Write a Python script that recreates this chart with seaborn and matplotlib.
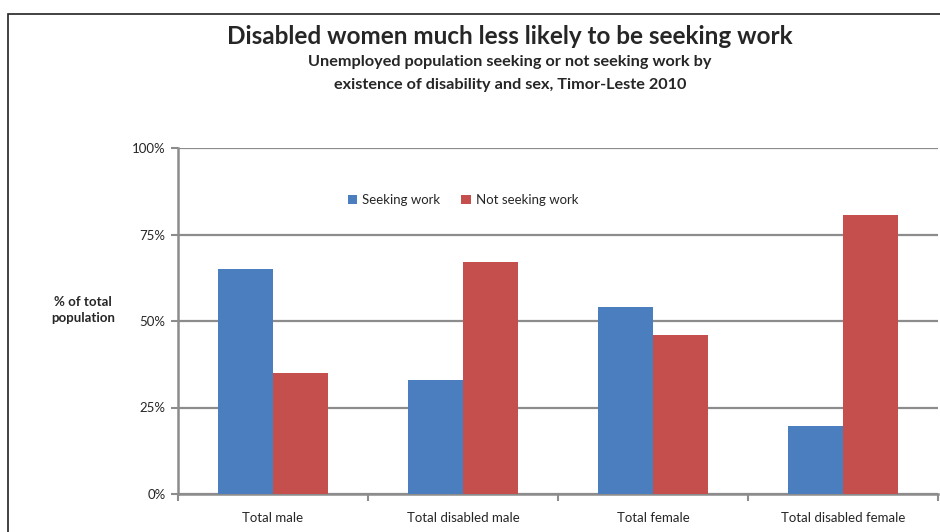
import pandas as pd
import seaborn as sns
import matplotlib.pyplot as plt
from matplotlib.patches import Rectangle

categories = ['Total male', 'Total disabled male', 'Total female', 'Total disabled female']
seeking = [65.0, 33.0, 54.0, 19.7]
not_seeking = [35.0, 67.0, 46.0, 80.5]
series_names = ['Seeking work', 'Not seeking work']
y_ticks = [0, 25, 50, 75, 100]

df = pd.DataFrame({
    'category': categories * 2,
    'status': [series_names[0]] * 4 + [series_names[1]] * 4,
    'value': seeking + not_seeking,
})

sns.set_style('white')
plt.rcParams['font.family'] = ['Lato', 'DejaVu Sans']

fig = plt.figure(figsize=(9.4, 5.32), dpi=100)
ax = fig.add_axes([178 / 940, 1 - 494 / 532, 760 / 940, 346 / 532])

# outer chart frame (cut off at right and bottom like the original)
fig.patches.append(Rectangle((8 / 940, -0.1), 1.2, 1 - 14 / 532 + 0.1, transform=fig.transFigure,
                             fill=False, edgecolor='#222222', lw=1.2))

sns.barplot(data=df, x='category', y='value', hue='status', ax=ax,
            palette=['#4a7ebf', '#c44f4c'], saturation=1, width=0.58, zorder=3,
            linewidth=0)

ax.set_ylim(0, 100)
ax.set_xlim(-0.5, 3.5)
ax.set_yticks(y_ticks)
ax.set_yticklabels([f'{t}%' for t in y_ticks], fontsize=9.5)
ax.yaxis.grid(True, color='#8c8c8c', lw=1.6, zorder=0)
ax.set_axisbelow(True)
ax.set_xticks(range(4))
ax.set_xticklabels(categories, fontsize=9.5)
ax.set_xticks([-0.5, 0.5, 1.5, 2.5, 3.5], minor=True)
ax.tick_params(axis='x', which='major', length=0, pad=13)
ax.tick_params(axis='x', which='minor', length=5, width=1.5, color='#8c8c8c', bottom=True)
ax.tick_params(axis='y', length=5, width=1.5, color='#8c8c8c', left=True, pad=4)
for s in ['top', 'right']:
    ax.spines[s].set_visible(False)
for s in ['left', 'bottom']:
    ax.spines[s].set_color('#8c8c8c')
    ax.spines[s].set_linewidth(1.8)
ax.set_xlabel('')
ax.set_ylabel('% of total\npopulation', rotation=0, fontsize=9.5, fontweight='bold',
              ha='center', va='center', labelpad=0, linespacing=1.4)
ax.yaxis.set_label_coords((83 - 178) / 760, (494 - 310) / 346)

ax.legend(loc='center', bbox_to_anchor=((463 - 178) / 760, (494 - 200) / 346), ncol=2,
          frameon=False, fontsize=9.5, handlelength=0.7, handleheight=0.7,
          handletextpad=0.4, columnspacing=1.6)

fig.text(510 / 940, 1 - 36 / 532, 'Disabled women much less likely to be seeking work',
         ha='center', va='center', fontsize=17.5, fontweight='bold')
fig.text(510 / 940, 1 - 62 / 532, 'Unemployed population seeking or not seeking work by',
         ha='center', va='center', fontsize=11.7, fontweight='bold')
fig.text(510 / 940, 1 - 85 / 532, 'existence of disability and sex, Timor-Leste 2010',
         ha='center', va='center', fontsize=11.7, fontweight='bold')

fig.savefig('out.png', dpi=100)
